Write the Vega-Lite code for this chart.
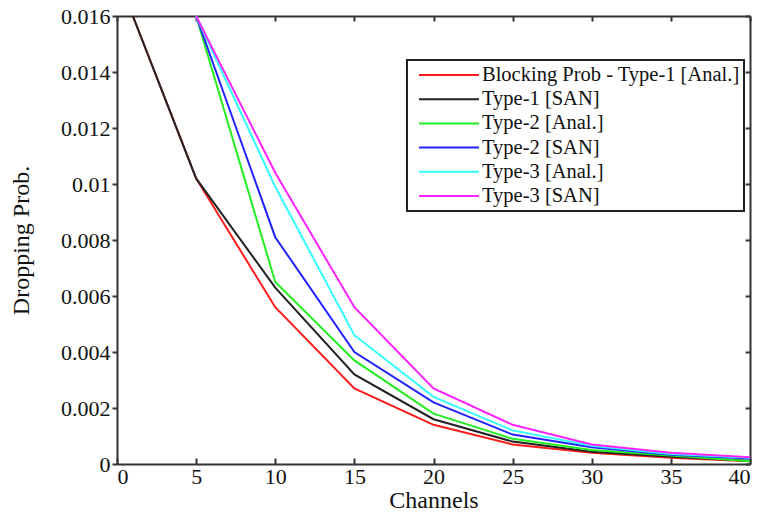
{
  "$schema": "https://vega.github.io/schema/vega-lite/v6.json",
  "width": 633,
  "height": 448,
  "autosize": {"type": "none"},
  "padding": {"left": 117, "top": 16, "right": 12, "bottom": 48},
  "background": "white",
  "config": {
    "view": {"stroke": null},
    "font": "Liberation Serif",
    "axis": {"grid": false, "domainColor": "#333", "domainWidth": 2, "tickColor": "#333", "tickWidth": 2, "labelFont": "Liberation Serif", "labelFontSize": 22, "labelColor": "#111", "titleFont": "Liberation Serif", "titleFontSize": 24, "titleFontWeight": "normal", "titleColor": "#111"}
  },
  "data": {"values": [
    {"ch": 1, "p": 0.016, "s": "Blocking Prob - Type-1 [Anal.]"},
    {"ch": 5, "p": 0.0102, "s": "Blocking Prob - Type-1 [Anal.]"},
    {"ch": 10, "p": 0.0056, "s": "Blocking Prob - Type-1 [Anal.]"},
    {"ch": 15, "p": 0.0027, "s": "Blocking Prob - Type-1 [Anal.]"},
    {"ch": 20, "p": 0.0014, "s": "Blocking Prob - Type-1 [Anal.]"},
    {"ch": 25, "p": 0.0007, "s": "Blocking Prob - Type-1 [Anal.]"},
    {"ch": 30, "p": 0.0004, "s": "Blocking Prob - Type-1 [Anal.]"},
    {"ch": 35, "p": 0.00022, "s": "Blocking Prob - Type-1 [Anal.]"},
    {"ch": 40, "p": 0.0001, "s": "Blocking Prob - Type-1 [Anal.]"},
    {"ch": 1, "p": 0.016, "s": "Type-1 [SAN]"},
    {"ch": 5, "p": 0.0102, "s": "Type-1 [SAN]"},
    {"ch": 10, "p": 0.0063, "s": "Type-1 [SAN]"},
    {"ch": 15, "p": 0.0032, "s": "Type-1 [SAN]"},
    {"ch": 20, "p": 0.0016, "s": "Type-1 [SAN]"},
    {"ch": 25, "p": 0.0008, "s": "Type-1 [SAN]"},
    {"ch": 30, "p": 0.00044, "s": "Type-1 [SAN]"},
    {"ch": 35, "p": 0.00026, "s": "Type-1 [SAN]"},
    {"ch": 40, "p": 0.00012, "s": "Type-1 [SAN]"},
    {"ch": 5, "p": 0.016, "s": "Type-2 [Anal.]"},
    {"ch": 10, "p": 0.0065, "s": "Type-2 [Anal.]"},
    {"ch": 15, "p": 0.0037, "s": "Type-2 [Anal.]"},
    {"ch": 20, "p": 0.0018, "s": "Type-2 [Anal.]"},
    {"ch": 25, "p": 0.0009, "s": "Type-2 [Anal.]"},
    {"ch": 30, "p": 0.0005, "s": "Type-2 [Anal.]"},
    {"ch": 35, "p": 0.0003, "s": "Type-2 [Anal.]"},
    {"ch": 40, "p": 0.0001, "s": "Type-2 [Anal.]"},
    {"ch": 5, "p": 0.016, "s": "Type-2 [SAN]"},
    {"ch": 10, "p": 0.0081, "s": "Type-2 [SAN]"},
    {"ch": 15, "p": 0.004, "s": "Type-2 [SAN]"},
    {"ch": 20, "p": 0.0022, "s": "Type-2 [SAN]"},
    {"ch": 25, "p": 0.00105, "s": "Type-2 [SAN]"},
    {"ch": 30, "p": 0.0006, "s": "Type-2 [SAN]"},
    {"ch": 35, "p": 0.00033, "s": "Type-2 [SAN]"},
    {"ch": 40, "p": 0.0002, "s": "Type-2 [SAN]"},
    {"ch": 5, "p": 0.016, "s": "Type-3 [Anal.]"},
    {"ch": 10, "p": 0.0099, "s": "Type-3 [Anal.]"},
    {"ch": 15, "p": 0.0046, "s": "Type-3 [Anal.]"},
    {"ch": 20, "p": 0.0024, "s": "Type-3 [Anal.]"},
    {"ch": 25, "p": 0.0012, "s": "Type-3 [Anal.]"},
    {"ch": 30, "p": 0.00065, "s": "Type-3 [Anal.]"},
    {"ch": 35, "p": 0.00036, "s": "Type-3 [Anal.]"},
    {"ch": 40, "p": 0.00022, "s": "Type-3 [Anal.]"},
    {"ch": 5, "p": 0.016, "s": "Type-3 [SAN]"},
    {"ch": 10, "p": 0.0104, "s": "Type-3 [SAN]"},
    {"ch": 15, "p": 0.0056, "s": "Type-3 [SAN]"},
    {"ch": 20, "p": 0.0027, "s": "Type-3 [SAN]"},
    {"ch": 25, "p": 0.0014, "s": "Type-3 [SAN]"},
    {"ch": 30, "p": 0.0007, "s": "Type-3 [SAN]"},
    {"ch": 35, "p": 0.0004, "s": "Type-3 [SAN]"},
    {"ch": 40, "p": 0.00024, "s": "Type-3 [SAN]"}
  ]},
  "layer": [
    {
      "mark": {"type": "line", "strokeWidth": 2, "clip": true},
      "encoding": {
        "x": {"field": "ch", "type": "quantitative", "scale": {"domain": [0, 40], "nice": false, "zero": false},
          "axis": {"orient": "bottom", "values": [0, 5, 10, 15, 20, 25, 30, 35, 40], "tickSize": -6, "labelPadding": 8, "title": "Channels", "titlePadding": 1}},
        "y": {"field": "p", "type": "quantitative", "scale": {"domain": [0, 0.016], "nice": false},
          "axis": {"orient": "left", "values": [0, 0.002, 0.004, 0.006, 0.008, 0.01, 0.012, 0.014, 0.016], "labelExpr": "'' + datum.value", "tickSize": 5, "labelPadding": 2, "title": "Dropping Prob.", "titlePadding": 27}},
        "color": {"field": "s", "type": "nominal",
          "scale": {"domain": ["Blocking Prob - Type-1 [Anal.]", "Type-1 [SAN]", "Type-2 [Anal.]", "Type-2 [SAN]", "Type-3 [Anal.]", "Type-3 [SAN]"],
                    "range": ["#ff1a1a", "#222222", "#22ee22", "#2222ff", "#33ffff", "#ff22ff"]},
          "legend": {"title": null, "orient": "none", "legendX": 290, "legendY": 44, "symbolType": "M-3,0H3", "symbolSize": 400, "symbolStrokeWidth": 2,
            "labelFont": "Liberation Serif", "labelFontSize": 20.5, "labelColor": "#111", "labelOffset": 22, "labelLimit": 400, "padding": 4, "symbolOffset": 27, "rowPadding": 2.2,
            "strokeColor": "#222", "fillColor": "white",
            "encode": {"legend": {"update": {"strokeWidth": {"value": 2}}}}}}
      }
    },
    {
      "mark": {"type": "line", "opacity": 0},
      "encoding": {
        "x": {"field": "ch", "type": "quantitative", "axis": {"orient": "top", "values": [0, 5, 10, 15, 20, 25, 30, 35, 40], "labels": false, "title": null, "tickSize": -5}},
        "y": {"field": "p", "type": "quantitative", "axis": {"orient": "right", "values": [0, 0.002, 0.004, 0.006, 0.008, 0.01, 0.012, 0.014, 0.016], "labels": false, "title": null, "tickSize": -5}},
        "detail": {"field": "s"}
      }
    }
  ],
  "resolve": {"axis": {"x": "independent", "y": "independent"}}
}
